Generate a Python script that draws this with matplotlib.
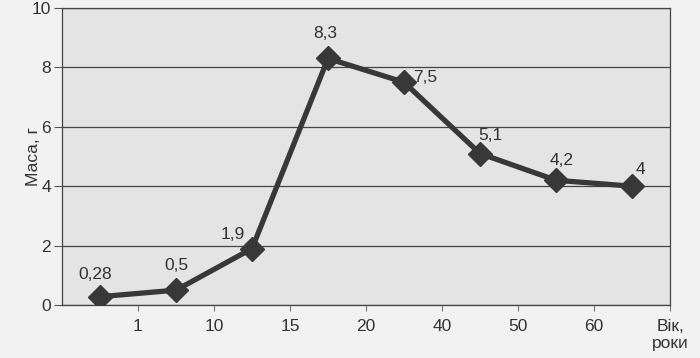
import matplotlib
matplotlib.use("Agg")
import matplotlib.pyplot as plt
import numpy as np

plt.rcParams['font.family'] = ['Liberation Sans', 'DejaVu Sans']

categories = ["0", "1", "10", "15", "20", "40", "50", "60"]
tick_labels = ["1", "10", "15", "20", "40", "50", "60", "Вік,\nроки"]
mass = [0.28, 0.5, 1.9, 8.3, 7.5, 5.1, 4.2, 4.0]
value_labels = ["0,28", "0,5", "1,9", "8,3", "7,5", "5,1", "4,2", "4"]
label_offsets = [(-5, 22), (0, 25), (-19, 14), (-3, 25), (21, 5), (10, 18), (6, 20), (8, 17)]

fig = plt.figure(figsize=(7, 3.58), dpi=100)
fig.patch.set_facecolor('#f2f2f2')
ax = fig.add_axes([62/700, 1-305/358, (670-62)/700, (305-8)/358])
ax.set_facecolor('#e4e4e4')

x = np.arange(len(categories)) + 0.5
ax.plot(x, mass, color='#383838', lw=3.8, marker='D', markersize=12,
        markerfacecolor='#383838', markeredgecolor='#383838', zorder=3)

for xi, yi, lab, off in zip(x, mass, value_labels, label_offsets):
    ax.annotate(lab, (xi, yi), xytext=off, textcoords='offset pixels',
                ha='center', va='center', fontsize=12.5, color='#333333')

ax.set_xlim(0, 8)
ax.set_ylim(0, 10)
ax.set_yticks([0, 2, 4, 6, 8, 10])
ax.set_yticklabels(['0', '2', '4', '6', '8', '10'], fontsize=12.5, color='#333333')
ax.set_xticks(np.arange(1, 9))
ax.set_xticklabels(tick_labels, fontsize=12.5, color='#333333', linespacing=1.15)
ax.tick_params(axis='y', length=6, color='#555555', pad=2)
ax.tick_params(axis='x', length=4, color='#777777', pad=6)
ax.grid(axis='y', color='#444444', lw=0.9)
ax.set_axisbelow(True)
for s in ax.spines.values():
    s.set_color('#444444')
    s.set_linewidth(0.9)
ax.set_ylabel('Маса, г', fontsize=12.5, color='#333333')
ax.yaxis.set_label_coords(-0.035, 0.5)

fig.savefig('out.png', dpi=100, facecolor=fig.get_facecolor())
